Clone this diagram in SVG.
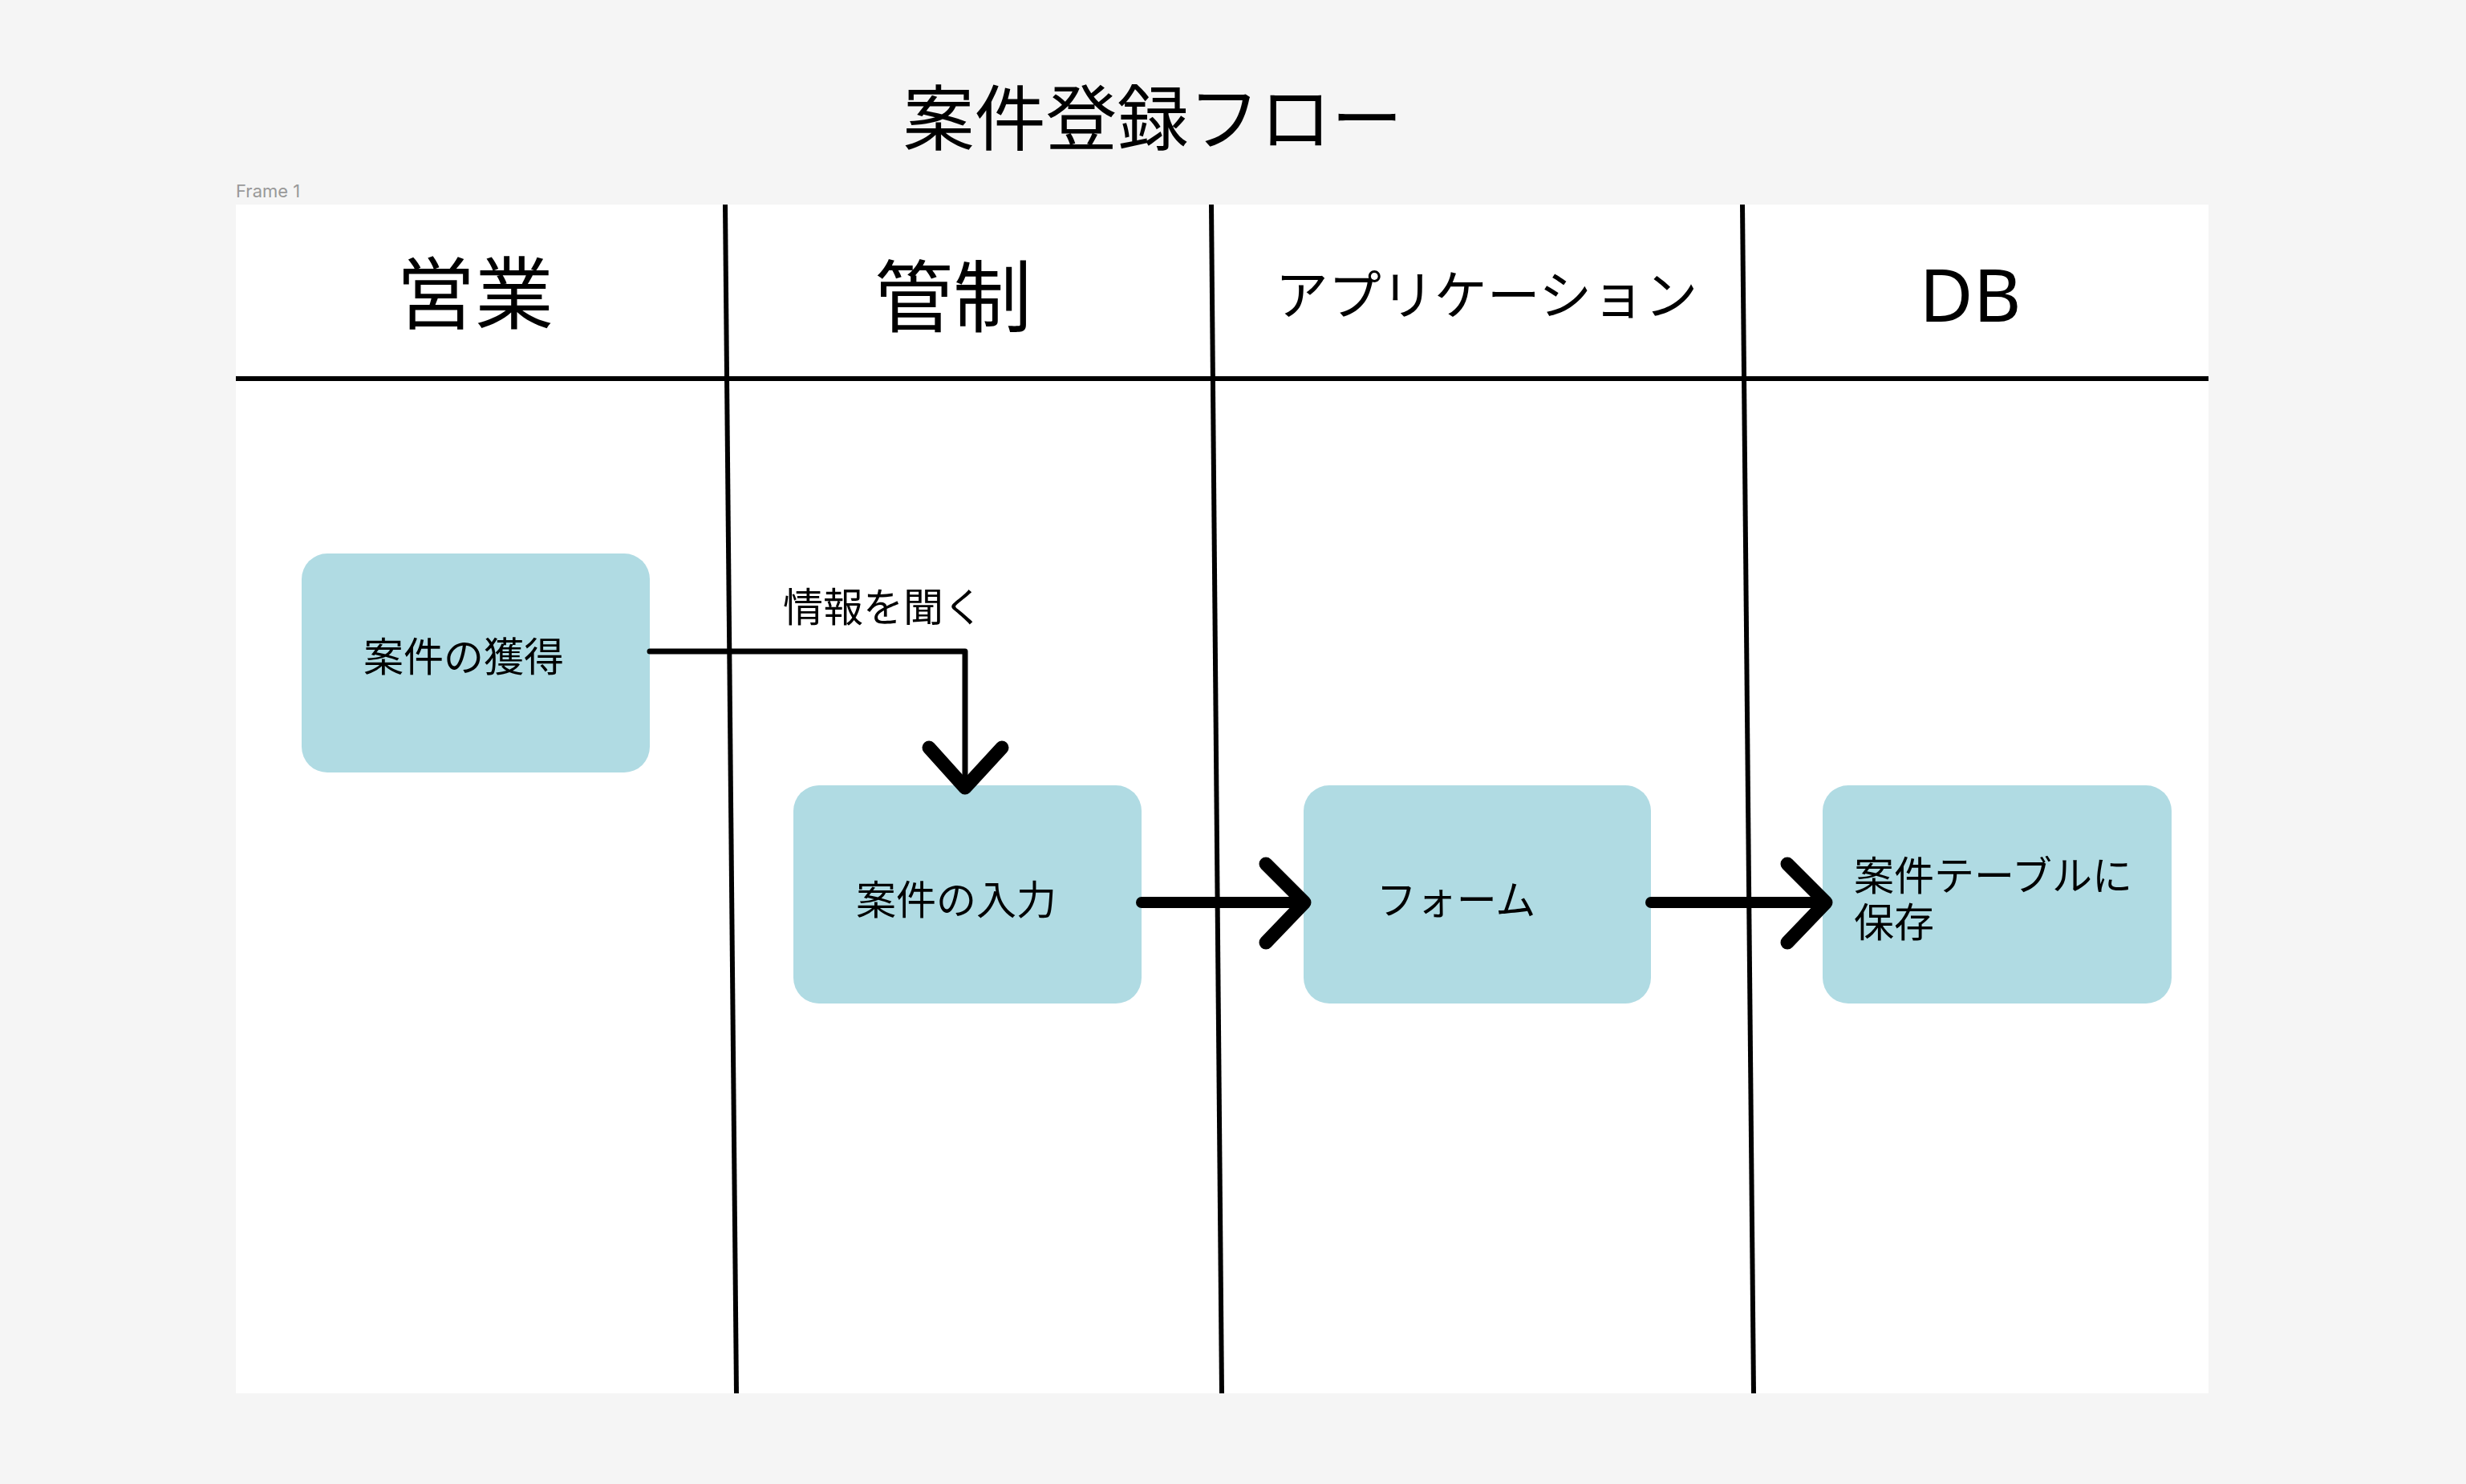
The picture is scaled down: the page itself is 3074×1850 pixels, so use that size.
<svg xmlns="http://www.w3.org/2000/svg" width="3074" height="1850" viewBox="0 0 3074 1850">
<style>
text{font-family:"Noto Sans CJK JP","Noto Sans",sans-serif;fill:#000}
.box{fill:#B0DBE3}
.lane{stroke:#000;stroke-width:6;fill:none}
.lbl{font-size:50px}
.arr{stroke:#000;fill:none;stroke-linecap:round;stroke-linejoin:round}
</style>
<rect width="3074" height="1850" fill="#F5F5F5"/>
<text x="1437" y="180" font-size="89" text-anchor="middle">案件登録フロー</text>
<text x="294" y="246" font-size="22" style="fill:#999;font-family:'Inter','Noto Sans',sans-serif">Frame 1</text>
<rect x="294" y="255" width="2459" height="1482" fill="#fff"/>
<g id="lanes">
<line class="lane" x1="294" y1="472" x2="2753" y2="472"/>
<line class="lane" x1="904" y1="255" x2="918" y2="1737"/>
<line class="lane" x1="1510" y1="255" x2="1523" y2="1737"/>
<line class="lane" x1="2172" y1="255" x2="2186" y2="1737"/>
<text x="592" y="402" font-size="98" text-anchor="middle">営業</text>
<text x="1188" y="406" font-size="98" text-anchor="middle">管制</text>
<text x="1853" y="392" font-size="66" text-anchor="middle">アプリケーション</text>
<text x="2456" y="401" font-size="92" text-anchor="middle" style="font-family:'Noto Sans',sans-serif">DB</text>
</g>
<g id="n1"><rect class="box" x="376" y="690" width="434" height="273" rx="32"/><text class="lbl" x="578" y="837" text-anchor="middle">案件の獲得</text></g>
<g id="n2"><rect class="box" x="989" y="979" width="434" height="272" rx="32"/><text class="lbl" x="1192" y="1140" text-anchor="middle">案件の入力</text></g>
<g id="n3"><rect class="box" x="1625" y="979" width="433" height="272" rx="32"/><text class="lbl" x="1815" y="1140" text-anchor="middle">フォーム</text></g>
<g id="n4"><rect class="box" x="2272" y="979" width="435" height="272" rx="32"/><text class="lbl" x="2311" y="1110">案件テーブルに</text><text class="lbl" x="2311" y="1168">保存</text></g>
<g id="connectors">
<polyline class="arr" stroke-width="7" stroke-linecap="butt" points="810,812 1203,812 1203,980"/>
<polyline class="arr" stroke-width="17" points="1158,932 1203,982 1249,932"/>
<line class="arr" stroke-width="14" stroke-linecap="butt" x1="1423" y1="1125" x2="1620" y2="1125"/>
<polyline class="arr" stroke-width="17" points="1578,1077 1626,1125 1578,1175"/>
<line class="arr" stroke-width="14" stroke-linecap="butt" x1="2058" y1="1125" x2="2270" y2="1125"/>
<polyline class="arr" stroke-width="17" points="2228,1077 2276,1125 2228,1175"/>
<text class="lbl" x="976" y="775">情報を聞く</text>
</g>
</svg>
